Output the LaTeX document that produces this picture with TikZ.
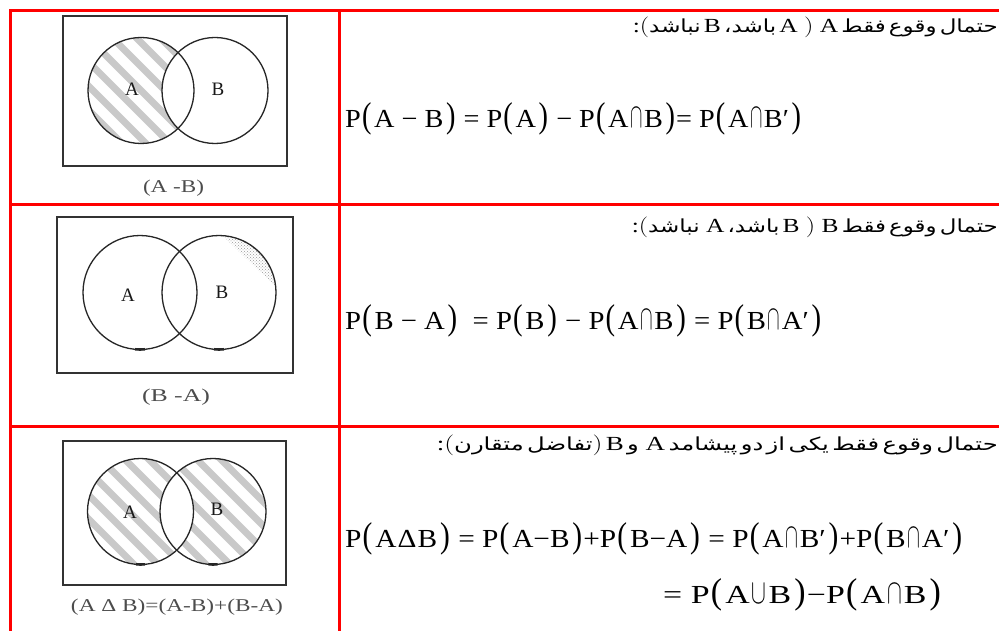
\documentclass[tikz,border=0pt]{standalone}
\usepackage{fontspec}
\usepackage{graphicx}
\setmainfont{Liberation Serif}
\newfontfamily\arabicfont[Script=Arabic]{DejaVu Sans}
\usetikzlibrary{patterns}

\newcommand\lat{\fontsize{20}{20}\selectfont}
\newcommand\fa{\arabicfont\fontsize{18}{18}\selectfont}
\newcommand\opp{$($}
\newcommand\clp{$)$}
\newcommand\lp{\kern1pt\scalebox{1}[1.38]{(}\kern2.5pt}
\newcommand\rp{\kern2.5pt\scalebox{1}[1.38]{)}\kern1pt}
\newcommand\capx{\kern1.5pt\scalebox{0.68}[1.4]{$\cap$}\kern1.5pt}
\newcommand\cupx{\kern1.5pt\scalebox{0.68}[1.4]{$\cup$}\kern1.5pt}

\tikzset{
  redline/.style={draw=red, line width=3pt},
  venn/.style={draw=black!85, line width=1.3pt},
  frame/.style={draw=black!80, line width=1.4pt},
  stripe/.style={draw=gray!42, line width=7pt},
  smudge/.style={draw=black!85, line width=2.6pt},
  lbl/.style={font=\fontsize{19}{19}\selectfont, text=black!90, inner sep=0pt},
  capt/.style={font=\fontsize{18}{18}\selectfont, text=black!70, inner sep=0pt},
  fml/.style={font=\fontsize{26}{26}\selectfont, inner sep=0pt, anchor=base west},
  fatext/.style={inner sep=0pt, anchor=base east},
}

\begin{document}
\begin{tikzpicture}[x=1pt,y=-1pt]
\useasboundingbox (0,0) rectangle (999,631);
\fill[white] (0,0) rectangle (999,631);

% ---------- Venn 1 : A - B
\begin{scope}
  \clip (141,90.5) circle[radius=53];
  \foreach \k in {-168,-144,...,168}
    \draw[stripe] ({141+\k-80},{90.5-80}) -- ({141+\k+80},{90.5+80});
  \fill[white] (215,90.5) circle[radius=53];
\end{scope}
\draw[frame] (63,16) rectangle (287,166);
\draw[venn] (141,90.5) circle[radius=53];
\draw[venn] (215,90.5) circle[radius=53];
\node[lbl] (a1) at (132,89) {A};
\node[lbl] (b1) at (218,89) {B};
\node[capt] (c1) at (173.5,188) {\resizebox{61pt}{\height}{(A -B)}};

% ---------- Venn 2 : B - A
\begin{scope}
  \clip (219,292.5) circle[radius=57];
  \fill[pattern=crosshatch dots, pattern color=gray!80]
    (219,292.5) ++(-86:57) arc[start angle=-86, end angle=-5, radius=57] -- cycle;
\end{scope}
\draw[frame] (57,217) rectangle (293,373);
\draw[venn] (140,292.5) circle[radius=57];
\draw[venn] (219,292.5) circle[radius=57];
\draw[smudge] (140,292.5) ++(85:57) arc[start angle=85, end angle=95, radius=57];
\draw[smudge] (219,292.5) ++(85:57) arc[start angle=85, end angle=95, radius=57];
\node[lbl] (a2) at (128,295) {A};
\node[lbl] (b2) at (222,292) {B};
\node[capt] (c2) at (176,397) {\resizebox{68pt}{\height}{(B -A)}};

% ---------- Venn 3 : symmetric difference
\begin{scope}
  \clip (140.5,511.5) circle[radius=53] (213,511.5) circle[radius=53];
  \foreach \k in {-240,-216,...,240}
    \draw[stripe] ({177+\k-90},{511.5-90}) -- ({177+\k+90},{511.5+90});
\end{scope}
\begin{scope}
  \clip (140.5,511.5) circle[radius=53];
  \fill[white] (213,511.5) circle[radius=53];
\end{scope}
\draw[frame] (63,441) rectangle (286,585);
\draw[venn] (140.5,511.5) circle[radius=53];
\draw[venn] (213,511.5) circle[radius=53];
\draw[smudge] (140.5,511.5) ++(85:53) arc[start angle=85, end angle=95, radius=53];
\draw[smudge] (213,511.5) ++(85:53) arc[start angle=85, end angle=95, radius=53];
\node[lbl] (a3) at (130,512) {A};
\node[lbl] (b3) at (217,509) {B};
\node[capt] (c3) at (177,607) {\resizebox{212pt}{\height}{(A Δ B)=(A-B)+(B-A)}};

% ---------- Persian headings (visual order, left to right; cut at the right edge as in the reference)
\node[fatext] (t1) at (998,33) {\resizebox{365pt}{\height}{%
  {\lat :\opp}{\fa نباشد}\ {\lat B}\ {\fa باشد،}\ {\lat A \clp\ A}\ {\fa فقط}\ {\fa وقوع}\ {\fa حتمال}}};
\node[fatext] (t2) at (998,233) {\resizebox{366pt}{\height}{%
  {\lat :\opp}{\fa نباشد}\ \ {\lat A}\ {\fa باشد،}\ {\lat B \clp\ B}\ {\fa فقط}\ {\fa وقوع}\ {\fa حتمال}}};
\node[fatext] (t3) at (998,450) {\resizebox{561pt}{\height}{%
  {\lat :\opp}{\fa متقارن}\ {\fa تفاضل}{\lat \clp}\ {\lat B}\ {\fa و}\ \ {\lat A}\ {\fa پیشامد}\ {\fa دو}\ {\fa از}\ {\fa یکی}\ {\fa فقط}\ {\fa وقوع}\ {\fa حتمال}}};

% ---------- Formulas
\node[fml] (f1) at (345,128) {\resizebox{457pt}{\height}{%
  P\lp A − B\rp{} = P\lp A\rp{} − P\lp A\capx B\rp= P\lp A\capx B′\rp}};
\node[fml] (f2) at (345,330) {\resizebox{477pt}{\height}{%
  P\lp B − A\rp{}\ \ = P\lp B\rp{} − P\lp A\capx B\rp{} = P\lp B\capx A′\rp}};
\node[fml] (f3) at (345,547) {\resizebox{618pt}{\height}{%
  P\lp A\kern1ptΔ\kern1ptB\rp{} = P\lp A−B\rp+P\lp B−A\rp{} = P\lp A\capx B′\rp+P\lp B\capx A′\rp}};
\node[fml] (f4) at (663,603) {\resizebox{279pt}{\height}{%
  = P\lp A\cupx B\rp−P\lp A\capx B\rp}};

% ---------- Red table grid
\draw[redline] (9,11) -- (1001,11);
\draw[redline] (9,204.5) -- (1001,204.5);
\draw[redline] (9,426) -- (1001,426);
\draw[redline] (10.5,9.5) -- (10.5,633);
\draw[redline] (339,9.5) -- (339,633);
\end{tikzpicture}
\end{document}
